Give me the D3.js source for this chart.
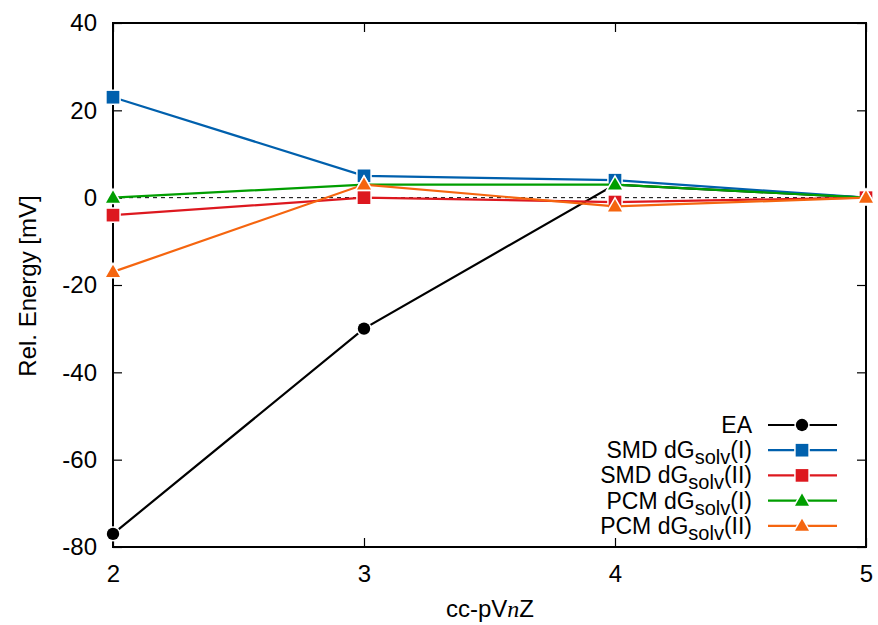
<!DOCTYPE html>
<html>
<head>
<meta charset="utf-8">
<script src="https://cdn.jsdelivr.net/npm/d3@7"></script>
<style>
  body { margin: 0; background: #fff; }
  text { font-family: "Liberation Sans", Arial, Helvetica, sans-serif; }
</style>
</head>
<body>
<svg id="chart" width="878" height="625"></svg>
<script>
// Basis-set cardinal numbers (cc-pVnZ)
const basisN = [2, 3, 4, 5];
const yTicks = [-80, -60, -40, -20, 0, 20, 40];

// Relative energies in mV for each series
const eaValues      = [-77, -30, 3, 0];
const smdOneValues  = [23, 5, 4, 0];
const smdTwoValues  = [-4, 0, -1, 0];
const pcmOneValues  = [0, 3, 3, 0];
const pcmTwoValues  = [-17, 3, -2, 0];

const seriesNames = ["EA", "SMD dG|solv|(I)", "SMD dG|solv|(II)", "PCM dG|solv|(I)", "PCM dG|solv|(II)"];
const seriesColors = ["#000000", "#0060ad", "#dd181f", "#009e00", "#f5650f"];
const seriesSymbols = ["circle", "square", "square", "triangle", "triangle"];
const seriesValues = [eaValues, smdOneValues, smdTwoValues, pcmOneValues, pcmTwoValues];

const svg = d3.select("#chart");
const m = { left: 113, right: 866, top: 23, bottom: 547 };

const x = d3.scaleLinear().domain([2, 5]).range([m.left, m.right]);
const y = d3.scaleLinear().domain([-80, 40]).range([m.bottom, m.top]);

// Zero reference line
svg.append("line")
  .attr("x1", x(2)).attr("x2", x(5))
  .attr("y1", y(0)).attr("y2", y(0))
  .attr("stroke", "#000").attr("stroke-width", 1)
  .attr("stroke-dasharray", "4,4");

// Axes with inward ticks, mirrored on all four sides
const tickLen = 9;
const fmt = d => String(d); // plain hyphen-minus
const axL = svg.append("g").attr("transform", `translate(${m.left},0)`)
  .call(d3.axisLeft(y).tickValues(yTicks).tickSize(-tickLen).tickPadding(16).tickFormat(fmt));
const axR = svg.append("g").attr("transform", `translate(${m.right},0)`)
  .call(d3.axisRight(y).tickValues(yTicks).tickSize(-tickLen).tickFormat(""));
const axB = svg.append("g").attr("transform", `translate(0,${m.bottom})`)
  .call(d3.axisBottom(x).tickValues(basisN).tickSize(-tickLen).tickPadding(18).tickFormat(fmt));
const axT = svg.append("g").attr("transform", `translate(0,${m.top})`)
  .call(d3.axisTop(x).tickValues(basisN).tickSize(-tickLen).tickFormat(""));

[axL, axR, axB, axT].forEach(a => {
  a.select(".domain").remove();
  a.selectAll("line").attr("stroke", "#000").attr("stroke-width", 1.2);
  a.selectAll("text").attr("font-size", 24).attr("fill", "#000")
    .attr("font-family", "Liberation Sans, Arial, sans-serif");
});

// Frame
svg.append("rect")
  .attr("x", m.left).attr("y", m.top)
  .attr("width", m.right - m.left).attr("height", m.bottom - m.top)
  .attr("fill", "none").attr("stroke", "#000").attr("stroke-width", 2);

// Series lines with markers
function symbolPath(kind) {
  if (kind === "circle") return d3.symbol().type(d3.symbolCircle).size(120)();
  if (kind === "square") return d3.symbol().type(d3.symbolSquare).size(160)();
  return d3.symbol().type(d3.symbolTriangle).size(85)();
}
const symOffset = k => (k === "triangle" ? 1 : 0);

const line = d3.line().x((d, i) => x(basisN[i])).y(d => y(d));

seriesValues.forEach((vals, s) => {
  const g = svg.append("g");
  g.append("path").datum(vals)
    .attr("d", line)
    .attr("fill", "none")
    .attr("stroke", seriesColors[s])
    .attr("stroke-width", 2.2);
  g.selectAll("path.pt").data(vals).join("path")
    .attr("class", "pt")
    .attr("d", symbolPath(seriesSymbols[s]))
    .attr("transform", (d, i) => `translate(${x(basisN[i])},${y(d) + symOffset(seriesSymbols[s])})`)
    .attr("fill", seriesColors[s])
    .attr("stroke", "#fff")
    .attr("stroke-width", 3)
    .attr("paint-order", "stroke");
});

// Legend
const legX = 752, legY0 = 425, legStep = 25.2;
seriesNames.forEach((name, s) => {
  const ly = legY0 + s * legStep;
  const t = svg.append("text")
    .attr("x", legX).attr("y", ly + 8)
    .attr("text-anchor", "end")
    .attr("font-size", 23).attr("fill", "#000");
  const parts = name.split("|");
  if (parts.length === 1) {
    t.text(name);
  } else {
    t.append("tspan").text(parts[0]);
    t.append("tspan").text(parts[1]).attr("font-size", 20).attr("dy", 6);
    t.append("tspan").text(parts[2]).attr("dy", -6);
  }
  svg.append("line")
    .attr("x1", 768).attr("x2", 837).attr("y1", ly).attr("y2", ly)
    .attr("stroke", seriesColors[s]).attr("stroke-width", 2.2);
  svg.append("path")
    .attr("d", symbolPath(seriesSymbols[s]))
    .attr("transform", `translate(802,${ly + symOffset(seriesSymbols[s])})`)
    .attr("fill", seriesColors[s])
    .attr("stroke", "#fff").attr("stroke-width", 3)
    .attr("paint-order", "stroke");
});

// Axis titles
const xt = svg.append("text")
  .attr("x", 490).attr("y", 617)
  .attr("text-anchor", "middle")
  .attr("font-size", 24).attr("fill", "#000");
xt.append("tspan").text("cc-pV");
xt.append("tspan").text("n").attr("font-style", "italic").attr("font-family", "Liberation Serif, serif");
xt.append("tspan").text("Z");

svg.append("text")
  .attr("transform", "translate(36,286) rotate(-90)")
  .attr("text-anchor", "middle")
  .attr("font-size", 24).attr("fill", "#000")
  .text("Rel. Energy [mV]");
</script>
</body>
</html>
